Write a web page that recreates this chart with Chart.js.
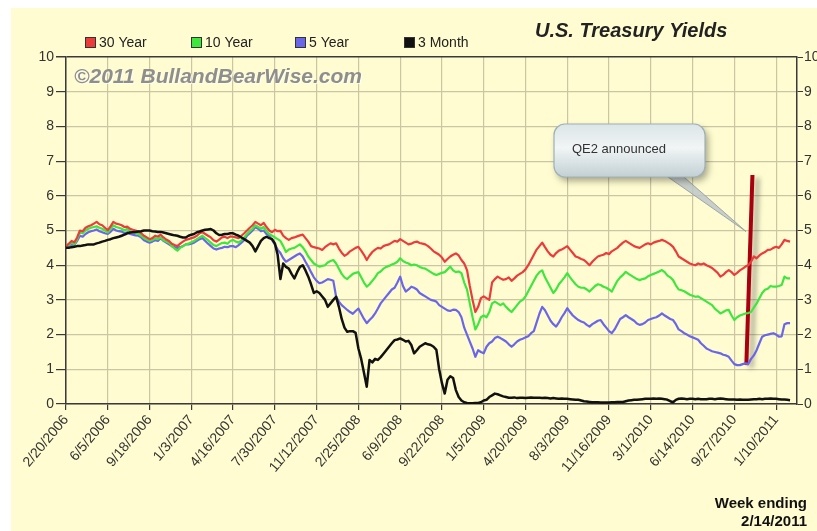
<!DOCTYPE html>
<html>
<head>
<meta charset="utf-8">
<script src="https://cdn.jsdelivr.net/npm/chart.js@4.4.1/dist/chart.umd.min.js"></script>
<style>
  html, body { margin: 0; padding: 0; background: #fff; }
  canvas { display: block; }
</style>
</head>
<body>
<canvas id="yields" width="817" height="531"></canvas>
<script>
// weekly closes, week 0 = 2/20/2006, last = 2/14/2011
const tickLabels = ['2/20/2006', '6/5/2006', '9/18/2006', '1/3/2007', '4/16/2007', '7/30/2007',
  '11/12/2007', '2/25/2008', '6/9/2008', '9/22/2008', '1/5/2009', '4/20/2009', '8/3/2009',
  '11/16/2009', '3/1/2010', '6/14/2010', '9/27/2010', '1/10/2011'];

const seriesNames = ['30 Year', '10 Year', '5 Year', '3 Month'];

const thirtyYear = [
  4.55, 4.62, 4.70, 4.66, 4.80, 5.00, 4.98, 5.08, 5.12, 5.15,
  5.20, 5.25, 5.18, 5.15, 5.08, 5.01, 5.12, 5.25, 5.20, 5.18,
  5.15, 5.10, 5.11, 5.05, 5.02, 5.00, 4.97, 4.92, 4.85, 4.80,
  4.75, 4.78, 4.85, 4.82, 4.88, 4.80, 4.74, 4.70, 4.62, 4.58,
  4.55, 4.62, 4.68, 4.73, 4.75, 4.78, 4.80, 4.85, 4.92, 4.95,
  4.90, 4.85, 4.80, 4.72, 4.68, 4.74, 4.80, 4.82, 4.78, 4.83,
  4.82, 4.80, 4.78, 4.85, 4.92, 5.00, 5.08, 5.15, 5.25, 5.20,
  5.15, 5.22, 5.10, 5.00, 4.95, 5.02, 4.98, 4.99, 4.85, 4.78,
  4.73, 4.78, 4.80, 4.83, 4.86, 4.88, 4.78, 4.68, 4.55, 4.52,
  4.50, 4.48, 4.44, 4.52, 4.58, 4.63, 4.60, 4.63, 4.48, 4.36,
  4.27, 4.32, 4.40, 4.45, 4.50, 4.53, 4.42, 4.30, 4.15, 4.28,
  4.38, 4.45, 4.50, 4.48, 4.55, 4.58, 4.60, 4.65, 4.70, 4.68,
  4.75, 4.70, 4.65, 4.60, 4.62, 4.66, 4.68, 4.64, 4.62, 4.60,
  4.55, 4.48, 4.40, 4.35, 4.30, 4.22, 4.10, 4.18, 4.25, 4.30,
  4.34, 4.28, 4.15, 4.05, 3.86, 3.40, 3.00, 2.65, 2.80, 3.05,
  3.10, 3.05, 3.00, 3.50, 3.60, 3.67, 3.62, 3.58, 3.60, 3.65,
  3.55, 3.62, 3.70, 3.75, 3.80, 3.88, 4.00, 4.15, 4.30, 4.45,
  4.55, 4.65, 4.52, 4.40, 4.30, 4.25, 4.35, 4.42, 4.45, 4.50,
  4.55, 4.45, 4.35, 4.25, 4.22, 4.18, 4.15, 4.08, 4.00, 4.10,
  4.18, 4.25, 4.28, 4.30, 4.35, 4.32, 4.40, 4.45, 4.50, 4.58,
  4.65, 4.70, 4.65, 4.60, 4.55, 4.52, 4.50, 4.55, 4.60, 4.63,
  4.60, 4.65, 4.68, 4.70, 4.73, 4.70, 4.65, 4.60, 4.53, 4.40,
  4.25, 4.20, 4.15, 4.10, 4.05, 4.02, 4.00, 4.05, 4.02, 4.05,
  4.00, 3.96, 3.92, 3.85, 3.78, 3.67, 3.72, 3.80, 3.86, 3.80,
  3.72, 3.78, 3.85, 3.90, 3.96, 4.00, 4.10, 4.25, 4.20, 4.28,
  4.34, 4.38, 4.44, 4.45, 4.50, 4.53, 4.50, 4.60, 4.73, 4.70,
  4.68
];

const tenYear = [
  4.55, 4.58, 4.65, 4.60, 4.75, 4.95, 4.92, 5.00, 5.05, 5.08,
  5.10, 5.12, 5.08, 5.05, 5.00, 4.95, 5.05, 5.15, 5.10, 5.08,
  5.05, 5.00, 5.05, 4.98, 4.95, 4.92, 4.90, 4.85, 4.78, 4.74,
  4.70, 4.72, 4.78, 4.75, 4.80, 4.72, 4.68, 4.65, 4.55, 4.48,
  4.42, 4.50, 4.55, 4.60, 4.62, 4.66, 4.70, 4.75, 4.80, 4.85,
  4.78, 4.72, 4.65, 4.58, 4.55, 4.60, 4.64, 4.65, 4.62, 4.70,
  4.73, 4.68, 4.65, 4.72, 4.80, 4.90, 4.98, 5.05, 5.15, 5.10,
  5.05, 5.10, 4.98, 4.90, 4.85, 4.80, 4.75, 4.70, 4.55, 4.38,
  4.45, 4.48, 4.50, 4.55, 4.60, 4.52, 4.40, 4.25, 4.15, 4.05,
  4.00, 3.96, 3.98, 4.00, 4.08, 4.12, 4.15, 4.05, 3.90, 3.75,
  3.65, 3.60, 3.68, 3.75, 3.78, 3.80, 3.65, 3.50, 3.38, 3.45,
  3.55, 3.65, 3.77, 3.82, 3.90, 3.95, 3.98, 4.02, 4.05, 4.10,
  4.20, 4.12, 4.08, 4.05, 4.00, 4.02, 4.00, 3.95, 3.92, 3.90,
  3.85, 3.80, 3.75, 3.72, 3.75, 3.78, 3.80, 3.88, 3.96, 3.85,
  3.80, 3.82, 3.77, 3.50, 3.30, 2.90, 2.50, 2.15, 2.30, 2.50,
  2.55, 2.50, 2.65, 2.90, 2.95, 2.90, 2.85, 2.90, 2.80, 2.72,
  2.65, 2.75, 2.85, 2.95, 3.00, 3.10, 3.25, 3.40, 3.55, 3.70,
  3.80, 3.85, 3.65, 3.50, 3.35, 3.20, 3.30, 3.45, 3.55, 3.65,
  3.77, 3.65, 3.55, 3.45, 3.38, 3.35, 3.35, 3.30, 3.24, 3.32,
  3.40, 3.45, 3.43, 3.38, 3.35, 3.30, 3.24, 3.40, 3.55, 3.65,
  3.72, 3.81, 3.75, 3.70, 3.65, 3.60, 3.57, 3.60, 3.62, 3.68,
  3.72, 3.75, 3.78, 3.82, 3.86, 3.80, 3.70, 3.65, 3.57, 3.42,
  3.30, 3.28, 3.25, 3.20, 3.15, 3.12, 3.09, 3.10, 3.05, 3.00,
  2.95, 2.90, 2.85, 2.75, 2.68, 2.61, 2.65, 2.70, 2.71, 2.55,
  2.42, 2.50, 2.55, 2.58, 2.61, 2.62, 2.65, 2.78, 2.90, 3.05,
  3.20, 3.29, 3.32, 3.40, 3.38, 3.38, 3.40, 3.43, 3.67, 3.62,
  3.62
];

const fiveYear = [
  4.50, 4.52, 4.60, 4.58, 4.70, 4.85, 4.82, 4.90, 4.95, 4.98,
  5.00, 5.03, 4.98, 4.95, 4.92, 4.90, 4.96, 5.05, 5.00, 4.98,
  4.97, 4.92, 4.95, 4.90, 4.88, 4.86, 4.85, 4.80, 4.72, 4.68,
  4.65, 4.68, 4.72, 4.70, 4.78, 4.70, 4.65, 4.60, 4.55, 4.52,
  4.50, 4.52, 4.55, 4.60, 4.60, 4.62, 4.65, 4.70, 4.75, 4.78,
  4.70, 4.62, 4.55, 4.48, 4.45, 4.48, 4.50, 4.53, 4.52, 4.55,
  4.55, 4.52, 4.58, 4.65, 4.72, 4.85, 4.92, 5.00, 5.10, 5.05,
  4.98, 5.00, 4.90, 4.85, 4.72, 4.60, 4.45, 4.35, 4.20, 4.10,
  4.15, 4.20, 4.25, 4.30, 4.34, 4.25, 4.10, 3.96, 3.80, 3.65,
  3.55, 3.48, 3.50, 3.55, 3.60, 3.58, 3.55, 3.09, 2.95, 2.85,
  2.78, 2.71, 2.65, 2.60, 2.68, 2.75, 2.60, 2.45, 2.33, 2.42,
  2.50, 2.61, 2.75, 2.90, 3.00, 3.10, 3.20, 3.30, 3.35, 3.50,
  3.67, 3.40, 3.24, 3.30, 3.38, 3.35, 3.30, 3.20, 3.15, 3.10,
  3.05, 3.00, 2.98, 2.95, 2.85, 2.80, 2.75, 2.70, 2.68, 2.72,
  2.71, 2.65, 2.50, 2.20, 2.00, 1.80, 1.60, 1.36, 1.55, 1.50,
  1.46, 1.65, 1.75, 1.80, 1.90, 1.94, 1.90, 1.85, 1.80, 1.72,
  1.65, 1.72, 1.80, 1.85, 1.88, 1.92, 1.95, 2.04, 2.10, 2.35,
  2.60, 2.80, 2.70, 2.55, 2.40, 2.30, 2.23, 2.35, 2.50, 2.62,
  2.76, 2.65, 2.55, 2.48, 2.42, 2.38, 2.35, 2.28, 2.23, 2.30,
  2.35, 2.40, 2.42, 2.30, 2.20, 2.10, 2.04, 2.15, 2.30, 2.45,
  2.50, 2.56, 2.50, 2.45, 2.40, 2.32, 2.28, 2.30, 2.35, 2.42,
  2.45, 2.48, 2.50, 2.55, 2.61, 2.55, 2.50, 2.45, 2.42, 2.30,
  2.15, 2.10, 2.04, 2.00, 1.95, 1.92, 1.89, 1.85, 1.75, 1.68,
  1.60, 1.56, 1.52, 1.50, 1.48, 1.46, 1.42, 1.40, 1.36, 1.25,
  1.15, 1.12, 1.12, 1.15, 1.17, 1.15, 1.30, 1.40, 1.55, 1.75,
  1.94, 1.98, 2.00, 2.02, 2.04, 2.00, 1.94, 1.95, 2.30, 2.33,
  2.33
];

const threeMonth = [
  4.50, 4.50, 4.52, 4.53, 4.55, 4.55, 4.57, 4.58, 4.60, 4.60,
  4.60, 4.63, 4.65, 4.68, 4.70, 4.73, 4.75, 4.78, 4.80, 4.82,
  4.85, 4.88, 4.92, 4.94, 4.95, 4.96, 4.97, 4.98, 5.00, 5.00,
  5.00, 4.98, 4.97, 4.96, 4.96, 4.94, 4.92, 4.90, 4.88, 4.86,
  4.85, 4.82, 4.80, 4.80, 4.85, 4.88, 4.90, 4.95, 4.97, 5.00,
  5.02, 5.03, 5.04, 5.00, 4.92, 4.87, 4.88, 4.90, 4.90, 4.92,
  4.92, 4.88, 4.85, 4.80, 4.75, 4.70, 4.65, 4.55, 4.40, 4.55,
  4.70, 4.78, 4.82, 4.78, 4.75, 4.63, 4.30, 3.60, 4.05, 3.95,
  3.90, 3.75, 3.62, 3.80, 3.95, 4.00, 3.85, 3.67, 3.45, 3.20,
  3.25, 3.20, 3.10, 3.00, 2.80, 2.90, 3.00, 3.09, 2.80, 2.45,
  2.20, 2.08, 2.10, 2.10, 2.05, 1.60, 1.30, 0.90, 0.50, 1.27,
  1.20, 1.30, 1.27, 1.35, 1.45, 1.55, 1.65, 1.75, 1.84, 1.86,
  1.89, 1.85, 1.80, 1.82, 1.70, 1.46, 1.55, 1.65, 1.70, 1.75,
  1.72, 1.70, 1.65, 1.56, 1.00, 0.60, 0.30, 0.70, 0.80, 0.75,
  0.40, 0.20, 0.10, 0.05, 0.03, 0.02, 0.02, 0.03, 0.03, 0.05,
  0.10, 0.12, 0.20, 0.25, 0.30, 0.28, 0.25, 0.22, 0.20, 0.18,
  0.18, 0.19, 0.17, 0.18, 0.18, 0.17, 0.18, 0.19, 0.18, 0.18,
  0.18, 0.17, 0.18, 0.17, 0.16, 0.17, 0.16, 0.15, 0.16, 0.15,
  0.15, 0.14, 0.13, 0.12, 0.12, 0.10, 0.08, 0.07, 0.06, 0.05,
  0.05, 0.05, 0.04, 0.04, 0.04, 0.04, 0.05, 0.05, 0.06, 0.06,
  0.06, 0.08, 0.10, 0.11, 0.12, 0.12, 0.13, 0.14, 0.15, 0.15,
  0.15, 0.16, 0.15, 0.16, 0.15, 0.14, 0.12, 0.08, 0.05, 0.12,
  0.15, 0.16, 0.15, 0.14, 0.15, 0.15, 0.14, 0.15, 0.14, 0.14,
  0.14, 0.15, 0.15, 0.14, 0.15, 0.16, 0.15, 0.14, 0.13, 0.13,
  0.13, 0.12, 0.13, 0.12, 0.12, 0.12, 0.13, 0.14, 0.14, 0.15,
  0.14, 0.15, 0.15, 0.16, 0.15, 0.15, 0.14, 0.13, 0.13, 0.12,
  0.11
];

// QE2 marker: [week, yield] for the bottom and top of the stroke
const qe2Week = [244.3, 246.5];
const qe2Level = [1.12, 6.6];
const qe2CalloutTip = [244.2, 4.97];

const FONT = "'Liberation Sans', Arial, sans-serif";
const seriesColors = ['#ec3b3b', '#3ee63e', '#6a66ea', '#111111'];
const gridColor = '#cbc5a2';
const axisColor = '#3a3a3a';
const paper = '#fefcd0';

const toPoints = arr => arr.map((v, i) => ({ x: i, y: v }));

const background = {
  id: 'background',
  beforeDraw(chart) {
    const ctx = chart.ctx;
    ctx.save();
    ctx.fillStyle = '#ffffff';
    ctx.fillRect(0, 0, chart.width, chart.height);
    ctx.fillStyle = paper;
    ctx.fillRect(11, 8, chart.width - 11, chart.height - 8);
    ctx.restore();
  },
  beforeDatasetsDraw(chart) {
    // watermark sits under the lines
    const ctx = chart.ctx;
    ctx.save();
    ctx.font = 'italic bold 21px ' + FONT;
    ctx.textBaseline = 'middle';
    ctx.fillStyle = 'rgba(255,255,255,0.8)';
    ctx.fillText('\u00a92011 BullandBearWise.com', 75, 78);
    ctx.fillStyle = '#8e8e8a';
    ctx.fillText('\u00a92011 BullandBearWise.com', 74, 77);
    ctx.restore();
  }
};

const markerShadow = {
  id: 'markerShadow',
  beforeDatasetDraw(chart, args) {
    if (args.index !== 4) return;
    const ctx = chart.ctx;
    ctx.save();
    ctx.shadowColor = 'rgba(60,60,60,0.45)';
    ctx.shadowBlur = 5;
    ctx.shadowOffsetX = 5;
    ctx.shadowOffsetY = 3;
  },
  afterDatasetDraw(chart, args) {
    if (args.index !== 4) return;
    chart.ctx.restore();
  }
};

function roundRect(ctx, x, y, w, h, r) {
  ctx.beginPath();
  ctx.moveTo(x + r, y);
  ctx.arcTo(x + w, y, x + w, y + h, r);
  ctx.arcTo(x + w, y + h, x, y + h, r);
  ctx.arcTo(x, y + h, x, y, r);
  ctx.arcTo(x, y, x + w, y, r);
  ctx.closePath();
}

const decorations = {
  id: 'decorations',
  afterDraw(chart) {
    const ctx = chart.ctx;
    const xs = chart.scales.x, ys = chart.scales.y;
    ctx.save();

    // title
    ctx.fillStyle = '#222';
    ctx.font = 'italic bold 20px ' + FONT;
    ctx.textBaseline = 'middle';
    ctx.textAlign = 'left';
    ctx.fillText('U.S. Treasury Yields', 535, 31);

    // legend
    const legendX = [85, 191, 295, 404];
    ctx.font = '14px ' + FONT;
    seriesNames.forEach((name, i) => {
      ctx.fillStyle = seriesColors[i];
      ctx.fillRect(legendX[i], 37, 10, 10);
      ctx.strokeStyle = '#333';
      ctx.lineWidth = 1;
      ctx.strokeRect(legendX[i] + 0.5, 37.5, 10, 10);
      ctx.fillStyle = '#222';
      ctx.fillText(name, legendX[i] + 14, 43);
    });

    // footnote
    ctx.font = 'bold 15px ' + FONT;
    ctx.textAlign = 'right';
    ctx.fillStyle = '#111';
    ctx.fillText('Week ending', 807, 504);
    ctx.fillText('2/14/2011', 807, 522);

    // callout tail
    const tipX = xs.getPixelForValue(qe2CalloutTip[0]);
    const tipY = ys.getPixelForValue(qe2CalloutTip[1]);
    ctx.beginPath();
    ctx.moveTo(658, 170);
    ctx.lineTo(tipX, tipY);
    ctx.lineTo(676, 170);
    ctx.closePath();
    ctx.fillStyle = 'rgba(190,198,200,0.85)';
    ctx.fill();
    ctx.strokeStyle = 'rgba(150,160,163,0.9)';
    ctx.stroke();

    // callout box
    ctx.save();
    ctx.shadowColor = 'rgba(0,0,0,0.35)';
    ctx.shadowBlur = 7;
    ctx.shadowOffsetX = 3;
    ctx.shadowOffsetY = 4;
    roundRect(ctx, 554, 124, 151, 53, 11);
    const g = ctx.createLinearGradient(0, 124, 0, 177);
    g.addColorStop(0, '#dbe5e7');
    g.addColorStop(0.45, '#f1f5f5');
    g.addColorStop(1, '#c2d0d4');
    ctx.fillStyle = g;
    ctx.fill();
    ctx.restore();
    roundRect(ctx, 554, 124, 151, 53, 11);
    ctx.strokeStyle = '#9fb1b6';
    ctx.lineWidth = 1.2;
    ctx.stroke();

    ctx.fillStyle = '#333';
    ctx.font = '13px ' + FONT;
    ctx.textAlign = 'left';
    ctx.textBaseline = 'alphabetic';
    ctx.fillText('QE2 announced', 572, 153);

    ctx.restore();
  }
};

Chart.defaults.font.family = FONT;

new Chart(document.getElementById('yields'), {
  type: 'line',
  data: {
    datasets: [
      { label: seriesNames[3], data: toPoints(threeMonth), borderColor: seriesColors[3], borderWidth: 2.5 },
      { label: seriesNames[0], data: toPoints(thirtyYear), borderColor: seriesColors[0], borderWidth: 2.2 },
      { label: seriesNames[1], data: toPoints(tenYear), borderColor: seriesColors[1], borderWidth: 2.2 },
      { label: seriesNames[2], data: toPoints(fiveYear), borderColor: seriesColors[2], borderWidth: 2.2 },
      {
        label: 'QE2',
        data: qe2Week.map((w, i) => ({ x: w, y: qe2Level[i] })),
        borderColor: '#a8000f',
        borderWidth: 4
      }
    ]
  },
  options: {
    responsive: false,
    animation: false,
    devicePixelRatio: 1,
    layout: { padding: { top: 57, left: 0, right: 0, bottom: 0 } },
    elements: {
      point: { radius: 0, hoverRadius: 0 },
      line: { tension: 0, borderCapStyle: 'butt', borderJoinStyle: 'round' }
    },
    plugins: {
      legend: { display: false },
      tooltip: { enabled: false },
      title: { display: false }
    },
    scales: {
      x: {
        type: 'linear',
        min: 0,
        max: 262.5,
        afterBuildTicks: scale => { scale.ticks = tickLabels.map((t, i) => ({ value: i * 15 })); },
        afterFit: scale => { scale.height = 127; },
        grid: { color: gridColor, lineWidth: 1.2, tickColor: axisColor, tickLength: 6 },
        border: { color: axisColor, width: 1.5 },
        ticks: {
          autoSkip: false,
          minRotation: 50,
          maxRotation: 50,
          padding: 2,
          color: '#333',
          font: { size: 14 },
          callback: (value, index) => tickLabels[index]
        }
      },
      y: {
        position: 'left',
        min: 0,
        max: 10,
        afterFit: scale => { scale.width = 66; },
        grid: {
          color: ctx => (ctx.tick && ctx.tick.value === 10 ? axisColor : gridColor),
          lineWidth: ctx => (ctx.tick && ctx.tick.value === 10 ? 1.5 : 1.2),
          tickColor: axisColor,
          tickLength: 10
        },
        border: { color: axisColor, width: 1.5 },
        ticks: { stepSize: 1, padding: 2, color: '#333', font: { size: 14 } }
      },
      y2: {
        position: 'right',
        min: 0,
        max: 10,
        afterFit: scale => { scale.width = 20; },
        grid: { drawOnChartArea: false, tickColor: axisColor, tickLength: 6 },
        border: { color: axisColor, width: 1.5 },
        ticks: { stepSize: 1, padding: 1, color: '#333', font: { size: 14 } }
      }
    }
  },
  plugins: [background, markerShadow, decorations]
});
</script>
</body>
</html>
